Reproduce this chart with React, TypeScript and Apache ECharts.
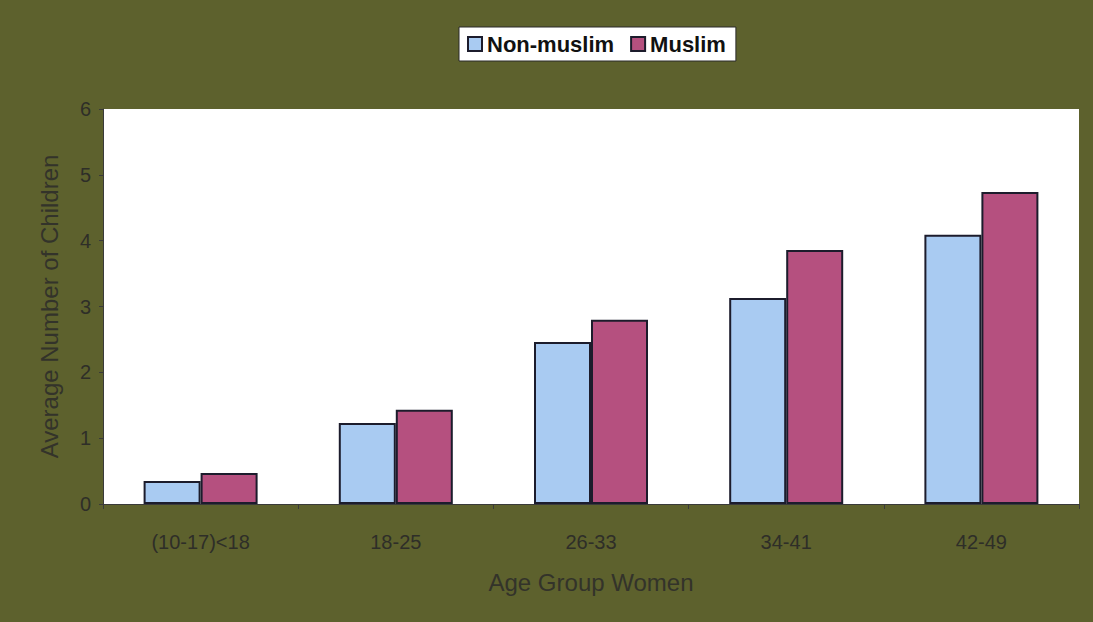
import React, { useEffect, useRef } from "react";
import * as echarts from "echarts";

const categories = ["(10-17)<18", "18-25", "26-33", "34-41", "42-49"];
const nonMuslim = [0.35, 1.23, 2.46, 3.13, 4.09];
const muslim = [0.47, 1.43, 2.8, 3.86, 4.74];
const yTicks = [0, 1, 2, 3, 4, 5, 6];

export default function App() {
  const ref = useRef<HTMLDivElement>(null);
  useEffect(() => {
    if (!ref.current) return;
    const chart = echarts.init(ref.current, undefined, { renderer: "svg" });
    const font = "'Liberation Sans', Arial, sans-serif";
    chart.setOption({
      animation: false,
      backgroundColor: "#5d612d",
      textStyle: { fontFamily: font },
      legend: {
        top: 27,
        left: 459,
        backgroundColor: "#ffffff",
        borderColor: "#2a2a2a",
        borderWidth: 1,
        padding: [6, 10, 6, 8],
        icon: "rect",
        itemWidth: 14,
        itemHeight: 14,
        itemGap: 16,
        textStyle: { fontSize: 22, fontWeight: "bold", color: "#111", fontFamily: font },
        data: ["Non-muslim", "Muslim"],
      },
      grid: {
        left: 103,
        right: 14,
        top: 109,
        bottom: 118,
        show: true,
        backgroundColor: "#ffffff",
        borderWidth: 0,
      },
      xAxis: {
        type: "category",
        data: categories,
        name: "Age Group Women",
        nameLocation: "middle",
        nameGap: 66,
        nameTextStyle: { fontSize: 24, color: "#33332a", fontFamily: font },
        axisLine: { lineStyle: { color: "#3a3a3a", width: 1 } },
        axisTick: { show: true, alignWithLabel: false, length: 5, lineStyle: { color: "#3a3a3a" } },
        axisLabel: { fontSize: 20, color: "#2e2e28", margin: 28, fontFamily: font },
      },
      yAxis: {
        type: "value",
        min: 0,
        max: 6,
        interval: 1,
        name: "Average Number of Children",
        nameLocation: "middle",
        nameGap: 42,
        nameTextStyle: { fontSize: 24, color: "#33332a", fontFamily: font },
        splitLine: { show: false },
        axisLine: { show: true, lineStyle: { color: "#3a3a3a" } },
        axisTick: { show: true, length: 4, lineStyle: { color: "#3a3a3a" } },
        axisLabel: {
          fontSize: 20,
          color: "#2e2e28",
          margin: 12,
          fontFamily: font,
          formatter: (v: number) => (yTicks.includes(v) ? String(v) : ""),
        },
      },
      series: [
        {
          name: "Non-muslim",
          type: "bar",
          data: nonMuslim,
          barWidth: 57,
          barGap: "0%",
          itemStyle: { color: "#a9cbf2", borderColor: "#1c1c2c", borderWidth: 2 },
        },
        {
          name: "Muslim",
          type: "bar",
          data: muslim,
          barWidth: 57,
          barGap: "0%",
          itemStyle: { color: "#b5507f", borderColor: "#1c1c2c", borderWidth: 2 },
        },
      ],
    });
    return () => chart.dispose();
  }, []);
  return (
    <div
      ref={ref}
      style={{ position: "absolute", left: 0, top: 0, width: 1093, height: 622 }}
    />
  );
}
